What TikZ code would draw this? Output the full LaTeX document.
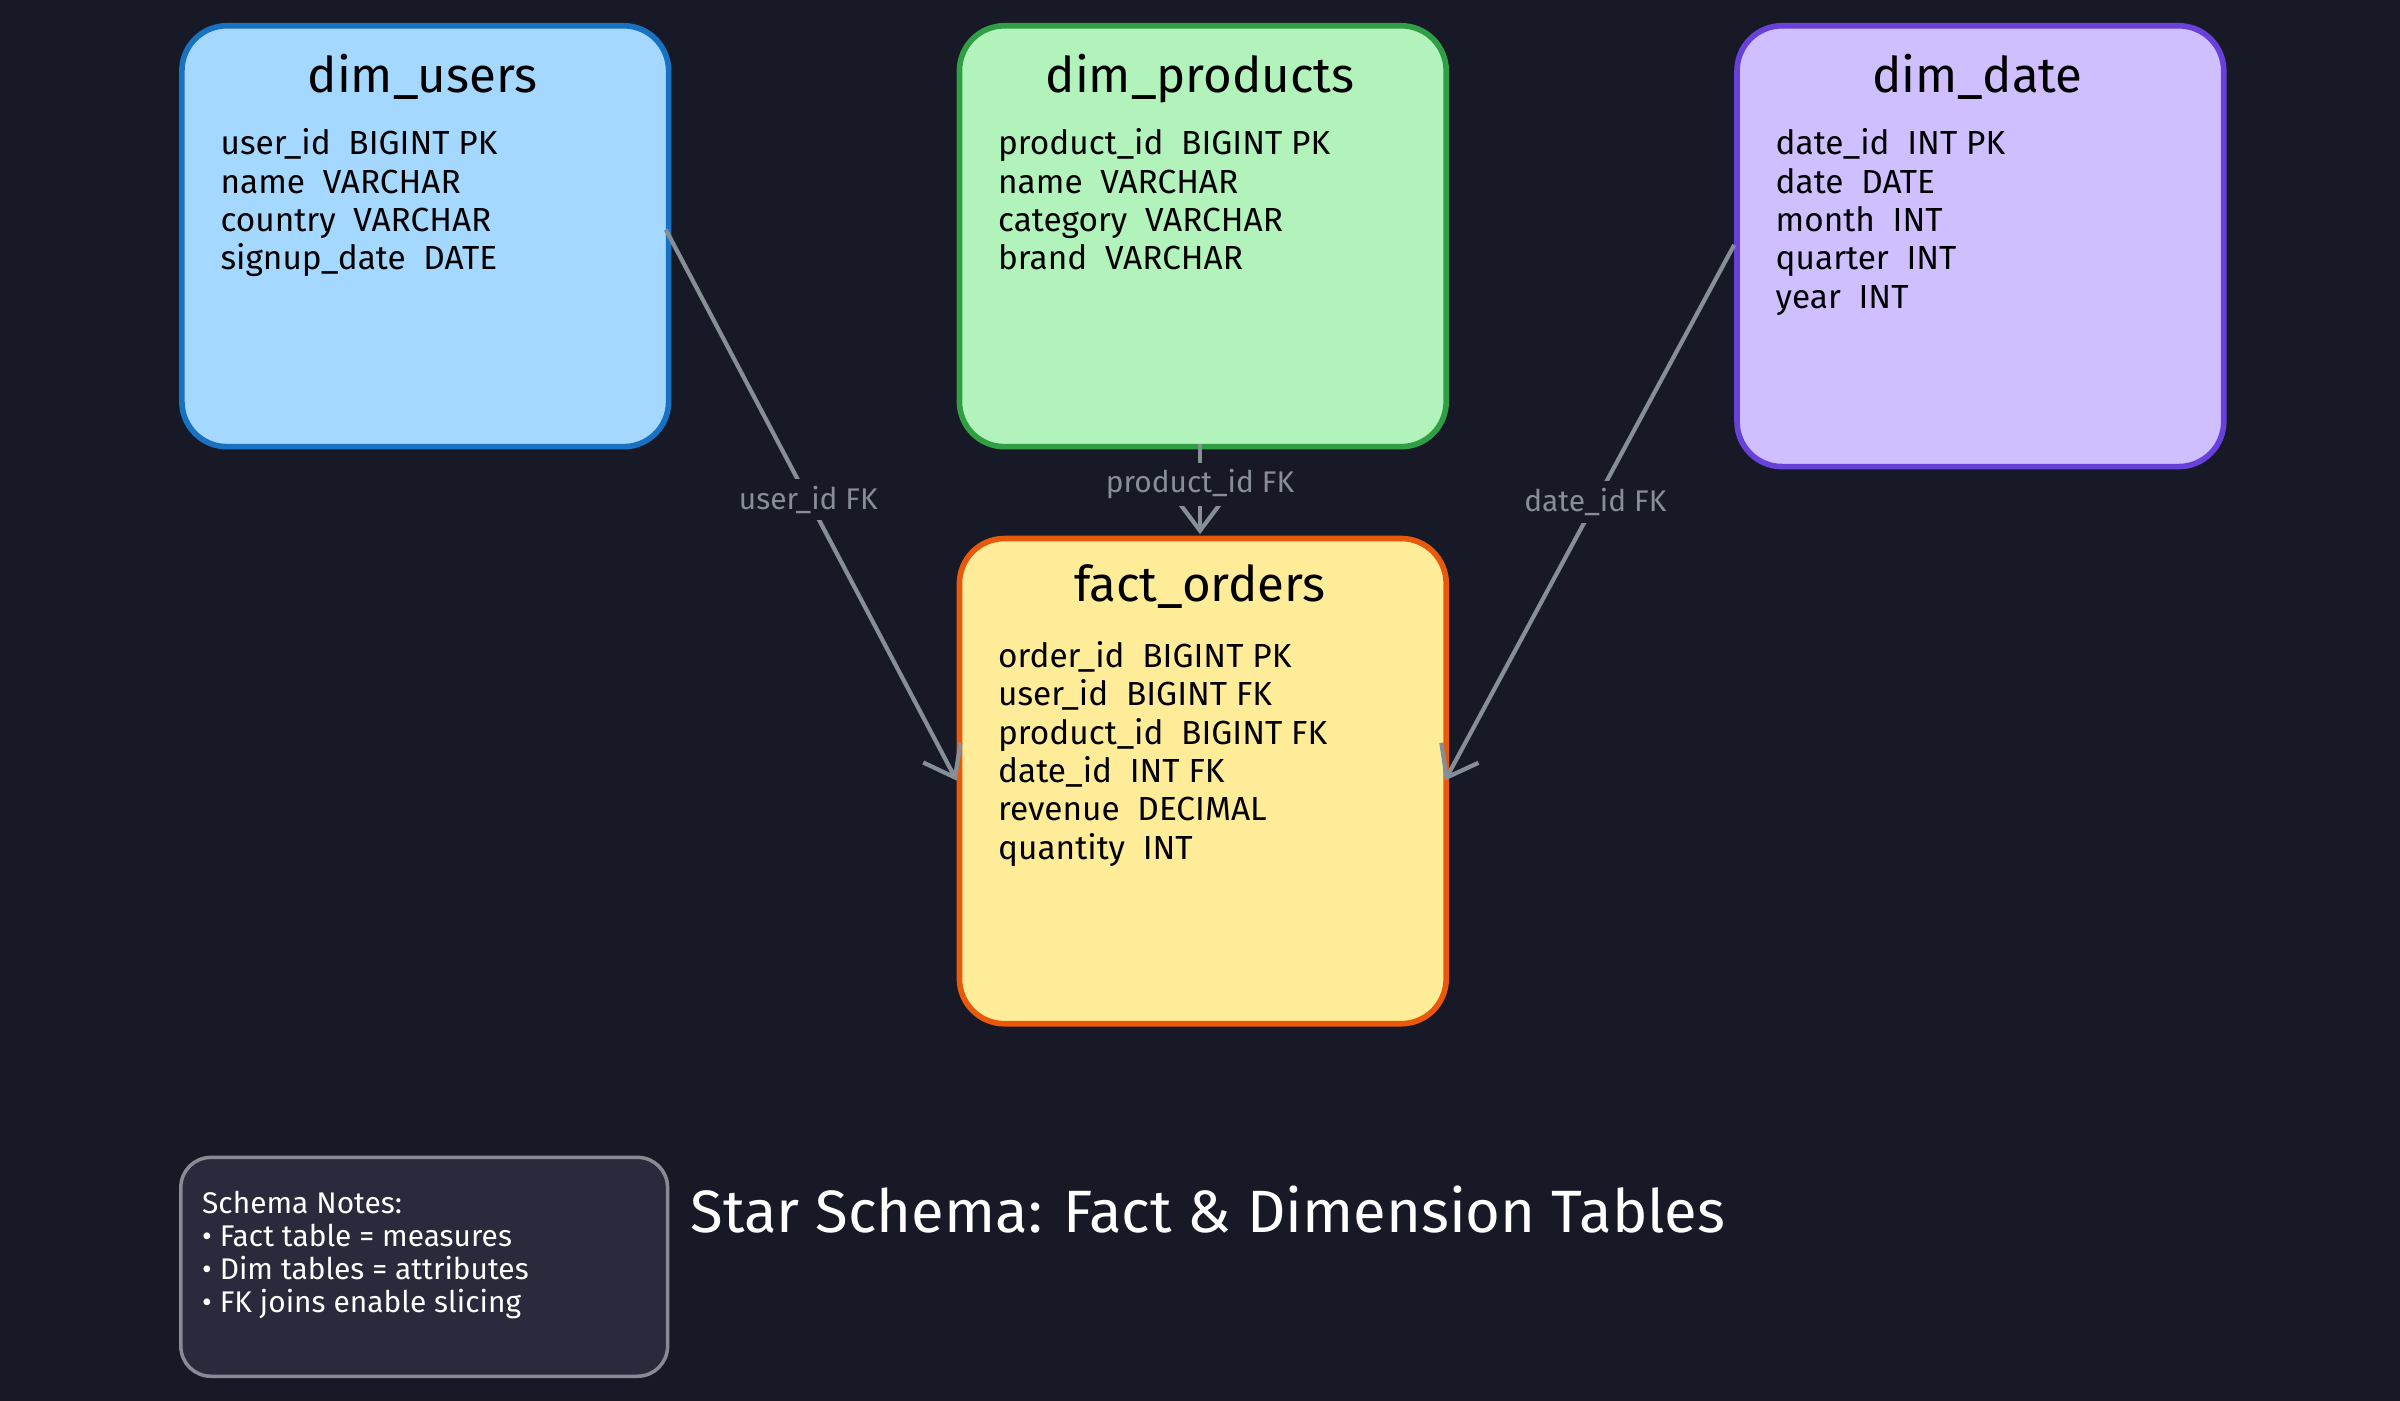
\documentclass[tikz,border=0pt]{standalone}
\usepackage{fontspec}
\setmainfont{Fira Sans}
\usetikzlibrary{arrows.meta}
\definecolor{bg}{HTML}{181926}
\definecolor{ublue}{HTML}{A5D8FF}\definecolor{bblue}{HTML}{1971C2}
\definecolor{ugreen}{HTML}{B2F2BB}\definecolor{bgreen}{HTML}{2F9E44}
\definecolor{upurple}{HTML}{D0BFFF}\definecolor{bpurple}{HTML}{6741D9}
\definecolor{uyellow}{HTML}{FFEC99}\definecolor{borange}{HTML}{E8590C}
\definecolor{notefill}{HTML}{2A2A3C}\definecolor{notebord}{HTML}{8A8A95}
\definecolor{conn}{HTML}{868E96}
\tikzset{
 tbl/.style={draw, line width=1.6pt, rounded corners=0.45cm},
 ttl/.style={anchor=north, font=\fontsize{14}{16}\selectfont, text=black},
 flds/.style={anchor=north west, align=left, font=\fontsize{9.5}{10.9}\selectfont, text=black},
 link/.style={draw=conn, line width=1.2pt, -{Straight Barb[length=8pt,width=12pt]}},
 lbl/.style={fill=bg, text=conn, font=\fontsize{8.5}{10}\selectfont, inner sep=2pt}
}
\begin{document}
\begin{tikzpicture}[x=0.0153cm,y=-0.0153cm]
\useasboundingbox[fill=bg] (0,0) rectangle (1568,915);
\node[tbl, fill=ublue, draw=bblue, minimum width=318*0.0153cm, minimum height=275*0.0153cm, anchor=north west] (users) at (117,15) {};
\node[tbl, fill=ugreen, draw=bgreen, minimum width=318*0.0153cm, minimum height=275*0.0153cm, anchor=north west] (products) at (625,15) {};
\node[tbl, fill=upurple, draw=bpurple, minimum width=318*0.0153cm, minimum height=288*0.0153cm, anchor=north west] (date) at (1133,15) {};
\node[tbl, fill=uyellow, draw=borange, minimum width=318*0.0153cm, minimum height=317*0.0153cm, anchor=north west] (fact) at (625,350) {};
\node[ttl] (tu) at (276,27) {dim\_users};
\node[ttl] (tp) at (784,27) {dim\_products};
\node[ttl] (td) at (1292,27) {dim\_date};
\node[ttl] (tf) at (784,361) {fact\_orders};
\node[flds] (fu) at (136,76) {user\_id\ \ BIGINT PK\\name\ \ VARCHAR\\country\ \ VARCHAR\\signup\_date\ \ DATE};
\node[flds] (fp) at (644,76) {product\_id\ \ BIGINT PK\\name\ \ VARCHAR\\category\ \ VARCHAR\\brand\ \ VARCHAR};
\node[flds] (fd) at (1152,76) {date\_id\ \ INT PK\\date\ \ DATE\\month\ \ INT\\quarter\ \ INT\\year\ \ INT};
\node[flds] (ff) at (644,411) {order\_id\ \ BIGINT PK\\user\_id\ \ BIGINT FK\\product\_id\ \ BIGINT FK\\date\_id\ \ INT FK\\revenue\ \ DECIMAL\\quantity\ \ INT};
\coordinate (u1) at (435,150); \coordinate (f1) at (625,510);
\coordinate (p1) at (784,290); \coordinate (f2) at (784,349);
\coordinate (d1) at (1133,160); \coordinate (f3) at (944,510);
\draw[link] (u1) -- node[lbl, pos=0.49] (lu) {user\_id FK} (f1);
\draw[link] (p1) -- node[lbl, pos=0.45] (lp) {product\_id FK} (f2);
\draw[link] (d1) -- node[lbl, pos=0.48] (ld) {date\_id FK} (f3);
\node[draw=notebord, fill=notefill, line width=1pt, rounded corners=0.3cm, minimum width=318*0.0153cm, minimum height=143*0.0153cm, anchor=north west] (notes) at (117,755) {};
\node[anchor=north west, align=left, text=white, font=\fontsize{8.5}{9.4}\selectfont] (nt) at (124,770) {Schema Notes:\\• Fact table = measures\\• Dim tables = attributes\\• FK joins enable slicing};
\node[anchor=west, text=white, font=\fontsize{17}{20}\selectfont] (title) at (443,790) {Star Schema: Fact \& Dimension Tables};
\end{tikzpicture}
\end{document}
